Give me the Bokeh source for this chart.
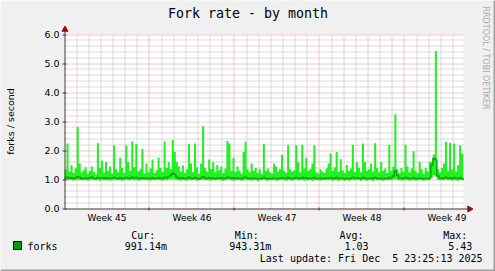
from bokeh.plotting import figure
from bokeh.models import Range1d, Label
from bokeh.embed import file_html
from bokeh.resources import INLINE
import math

# ---- data: 4-hour samples, Mon 3 Nov 2025 -> Fri 5 Dec 2025
forks_max = [
    1.35, 2.24, 1.28, 1.49, 1.22, 1.38, 2.81, 1.55, 1.25, 1.32,
    1.42, 1.20, 1.30, 1.45, 1.26, 1.18, 2.25, 1.40, 1.65, 1.24,
    1.60, 1.30, 1.45, 1.20, 2.18, 1.36, 1.25, 1.75, 1.40, 1.22,
    2.18, 1.60, 1.30, 2.32, 1.42, 2.22, 1.28, 1.35, 2.05, 1.20,
    1.55, 1.25, 1.38, 1.69, 1.22, 1.32, 1.75, 1.40, 1.26, 2.30,
    1.40, 1.60, 1.35, 2.36, 1.95, 1.60, 1.45, 1.28, 1.48, 1.22,
    1.35, 2.22, 1.55, 1.25, 2.24, 1.42, 1.20, 1.55, 2.84, 1.40,
    1.28, 1.69, 1.36, 1.60, 1.25, 1.50, 1.32, 1.45, 1.22, 1.38,
    2.33, 2.24, 1.30, 1.75, 1.26, 1.45, 1.30, 1.20, 1.95, 2.30,
    1.35, 1.25, 1.55, 1.30, 1.40, 1.22, 1.35, 1.18, 2.22, 1.30,
    1.38, 1.25, 1.20, 1.55, 1.45, 1.28, 1.35, 1.85, 1.30, 1.22,
    2.20, 1.35, 1.28, 1.32, 2.18, 1.60, 1.25, 2.20, 1.38, 1.75,
    1.30, 1.36, 1.55, 2.18, 1.25, 1.20, 1.35, 1.28, 1.22, 1.38,
    1.55, 1.90, 1.30, 1.42, 1.95, 1.28, 1.70, 1.32, 1.22, 1.50,
    1.30, 1.38, 2.20, 1.26, 1.60, 1.40, 1.25, 2.24, 1.60, 1.30,
    1.35, 1.55, 1.28, 2.25, 1.40, 1.25, 1.60, 1.30, 1.38, 1.22,
    2.20, 1.30, 1.45, 3.25, 1.35, 1.22, 1.40, 1.28, 2.20, 1.45,
    1.25, 1.38, 1.97, 1.30, 1.22, 1.60, 1.35, 1.20, 1.40, 1.28,
    1.60, 1.60, 1.85, 5.43, 1.35, 1.25, 1.40, 1.55, 2.30, 1.30,
    2.27, 1.35, 2.24, 1.28, 1.50, 2.18, 1.90, 1.42,
]
forks_avg = [
    1.05, 1.08, 1.04, 1.06, 1.03, 1.05, 1.10, 1.07, 1.04, 1.03,
    1.05, 1.04, 1.06, 1.08, 1.04, 1.03, 1.07, 1.05, 1.06, 1.04,
    1.06, 1.03, 1.05, 1.04, 1.07, 1.05, 1.03, 1.06, 1.04, 1.03,
    1.07, 1.05, 1.04, 1.08, 1.05, 1.07, 1.04, 1.03, 1.06, 1.04,
    1.05, 1.03, 1.04, 1.06, 1.03, 1.04, 1.06, 1.05, 1.04, 1.08,
    1.06, 1.10, 1.15, 1.22, 1.18, 1.09, 1.05, 1.04, 1.06, 1.03,
    1.04, 1.08, 1.05, 1.03, 1.07, 1.04, 1.03, 1.05, 1.10, 1.05,
    1.03, 1.06, 1.04, 1.05, 1.03, 1.05, 1.04, 1.06, 1.03, 1.04,
    1.08, 1.07, 1.04, 1.06, 1.03, 1.05, 1.04, 1.03, 1.06, 1.08,
    1.04, 1.03, 1.05, 1.04, 1.05, 1.03, 1.04, 1.03, 1.07, 1.04,
    1.03, 1.04, 1.03, 1.05, 1.04, 1.03, 1.05, 1.06, 1.04, 1.03,
    1.07, 1.04, 1.03, 1.05, 1.07, 1.05, 1.03, 1.08, 1.04, 1.06,
    1.03, 1.04, 1.05, 1.07, 1.03, 1.04, 1.05, 1.03, 1.04, 1.05,
    1.04, 1.06, 1.03, 1.04, 1.07, 1.03, 1.05, 1.04, 1.03, 1.05,
    1.03, 1.04, 1.07, 1.05, 1.06, 1.04, 1.03, 1.07, 1.05, 1.03,
    1.04, 1.05, 1.03, 1.07, 1.04, 1.03, 1.05, 1.03, 1.04, 1.03,
    1.07, 1.05, 1.12, 1.30, 1.15, 1.05, 1.04, 1.03, 1.07, 1.05,
    1.03, 1.04, 1.06, 1.03, 1.04, 1.05, 1.04, 1.03, 1.04, 1.03,
    1.05, 1.50, 1.73, 1.68, 1.12, 1.05, 1.04, 1.05, 1.08, 1.04,
    1.06, 1.03, 1.07, 1.04, 1.03, 1.06, 1.04, 0.99,
]
forks_min = [
    0.98, 0.97, 0.99, 0.98, 0.96, 0.98, 0.99, 0.97, 0.98, 0.97,
    0.98, 0.96, 0.97, 0.99, 0.98, 0.97, 0.98, 0.96, 0.99, 0.97,
    0.97, 0.98, 0.96, 0.98, 0.99, 0.97, 0.98, 0.97, 0.96, 0.98,
    0.99, 0.97, 0.98, 0.99, 0.97, 0.98, 0.96, 0.97, 0.98, 0.97,
    0.98, 0.97, 0.96, 0.98, 0.97, 0.99, 0.98, 0.97, 0.96, 0.98,
    0.97, 0.99, 1.00, 1.02, 0.99, 0.98, 0.97, 0.96, 0.98, 0.97,
    0.96, 0.98, 0.97, 0.98, 0.99, 0.96, 0.97, 0.98, 0.99, 0.97,
    0.98, 0.97, 0.96, 0.98, 0.97, 0.98, 0.99, 0.97, 0.96, 0.98,
    0.98, 0.99, 0.97, 0.96, 0.98, 0.97, 0.98, 0.96, 0.97, 0.99,
    0.97, 0.98, 0.96, 0.97, 0.98, 0.94, 0.97, 0.98, 0.99, 0.97,
    0.96, 0.98, 0.97, 0.98, 0.96, 0.97, 0.98, 0.99, 0.97, 0.96,
    0.98, 0.97, 0.96, 0.98, 0.99, 0.97, 0.98, 0.98, 0.96, 0.97,
    0.97, 0.98, 0.96, 0.97, 0.98, 0.97, 0.96, 0.98, 0.97, 0.98,
    0.97, 0.99, 0.96, 0.98, 0.97, 0.96, 0.98, 0.97, 0.95, 0.98,
    0.96, 0.97, 0.98, 0.97, 0.99, 0.98, 0.96, 0.98, 0.97, 0.96,
    0.98, 0.97, 0.96, 0.99, 0.97, 0.98, 0.97, 0.96, 0.98, 0.97,
    0.98, 0.97, 0.99, 1.02, 0.98, 0.97, 0.96, 0.98, 0.97, 0.98,
    0.96, 0.97, 0.98, 0.96, 0.97, 0.98, 0.97, 0.96, 0.98, 0.97,
    0.98, 1.05, 1.15, 1.10, 0.99, 0.97, 0.98, 0.97, 0.99, 0.97,
    0.98, 0.96, 0.98, 0.97, 0.96, 0.98, 0.97, 0.97,
]
samples_per_day = 6
days = [i / samples_per_day for i in range(len(forks_max))]

week_labels = ["Week 45", "Week 46", "Week 47", "Week 48", "Week 49"]
week_centers = [3.5, 10.5, 17.5, 24.5, 31.5]
week_bounds = [7, 14, 21, 28]
y_major = [0, 1, 2, 3, 4, 5, 6]
y_labels = ["0.0", "1.0", "2.0", "3.0", "4.0", "5.0", "6.0"]

legend_name = "forks"
stat_heads = ["Cur:", "Min:", "Avg:", "Max:"]
stat_values = ["991.14m", "943.31m", "1.03", "5.43"]
last_update = "Last update: Fri Dec  5 23:25:13 2025"

# ---- layout: the canvas is the frame; the plot area sits inside it
X_END, Y_END = 32.86, 6.0
W, H = 495, 271
PL, PR, PT, PB = 64, 463, 34, 208          # plot area in canvas pixels
XS = (PR - PL) / X_END                     # px per day
YS = (PB - PT) / Y_END                     # px per unit
def dx(px):
    return (px - PL) / XS
def dy(py):
    return (PB - py) / YS
def snap_x(d):                             # put a 1px line on a pixel centre
    return dx(math.floor(PL + d * XS) + 0.5)
def snap_y(v):
    return dy(math.floor(PB - v * YS) + 0.5)

BRIGHT = "#22f022"
DARK = "#00a000"
AXIS = "#553333"
MINOR = "#b8b8b8"
MAJOR = "#e49494"
ARROW = "#8b1010"

p = figure(width=W, height=H, output_backend="svg", toolbar_location=None,
           x_range=Range1d(dx(0), dx(W)), y_range=Range1d(dy(H), dy(0)),
           x_axis_location=None, y_axis_location=None,
           min_border=0, min_border_left=0, min_border_right=0,
           min_border_top=0, min_border_bottom=0,
           background_fill_color="#f0f0f0", border_fill_color="#f0f0f0",
           outline_line_color=None)
p.grid.visible = False

# bevel on the right and bottom edges
p.quad(left=[dx(0), dx(W - 2)], right=[dx(W), dx(W)], bottom=[dy(H), dy(H)], top=[dy(H - 2), dy(0)],
       fill_color="#a0a0a0", line_color=None)

# canvas
p.quad(left=[0], right=[X_END], bottom=[0], top=[Y_END], fill_color="white", line_color=None)

# grid (dotted)
minor_x = [snap_x(d) for d in range(1, 33) if d % 7 != 0]
minor_y = [snap_y(k / 5) for k in range(1, 30) if k % 5 != 0]
major_x = [snap_x(d) for d in week_bounds]
major_y = [snap_y(v) for v in y_major[1:]]
p.segment(x0=minor_x, x1=minor_x, y0=[0] * len(minor_x), y1=[Y_END] * len(minor_x),
          line_color=MINOR, line_dash="1 1", line_width=1)
p.segment(x0=[0] * len(minor_y), x1=[X_END] * len(minor_y), y0=minor_y, y1=minor_y,
          line_color=MINOR, line_dash="1 1", line_width=1)
p.segment(x0=major_x, x1=major_x, y0=[0] * len(major_x), y1=[Y_END] * len(major_x),
          line_color=MAJOR, line_dash="1 1", line_width=1)
p.segment(x0=[0] * len(major_y), x1=[X_END] * len(major_y), y0=major_y, y1=major_y,
          line_color=MAJOR, line_dash="1 1", line_width=1)

# data
p.varea_step(x=days, y1=forks_min, y2=forks_max, step_mode="after", fill_color=BRIGHT)
p.step(x=days, y=forks_avg, mode="after", line_color=DARK, line_width=1.3)

# axes
ax0, ay0 = snap_x(0), snap_y(0)
p.segment(x0=[ax0, ax0], x1=[ax0, dx(467)], y0=[ay0, ay0], y1=[dy(30), ay0],
          line_color=AXIS, line_width=1)
p.segment(x0=[dx(PL - 2)] * 7, x1=[dx(PL + 2)] * 7, y0=[snap_y(v) for v in y_major],
          y1=[snap_y(v) for v in y_major], line_color=AXIS)
p.segment(x0=major_x, x1=major_x, y0=[dy(PB - 1)] * 4, y1=[dy(PB + 2)] * 4, line_color=AXIS)
p.scatter(x=[ax0], y=[dy(29)], marker="triangle", size=6, fill_color=ARROW, line_color=ARROW)
p.scatter(x=[dx(469)], y=[ay0], marker="triangle", angle=-math.pi / 2, size=6,
          fill_color=ARROW, line_color=ARROW)

def lab(x, y, text, font="DejaVu Sans Mono", size="10px", align="left", angle=0,
        color="black", **kw):
    p.add_layout(Label(x=x, y=y, text=text, text_font=font, text_font_size=size,
                       text_align=align, text_baseline="middle", angle=angle,
                       text_color=color, **kw))

for v, t in zip(y_major, y_labels):
    lab(dx(PL - 5), v, t, font="DejaVu Sans", size="9.5px", align="right")
for c, t in zip(week_centers, week_labels):
    lab(c, dy(217.5), t, font="DejaVu Sans", size="9px", align="center")

lab(dx(247.5), dy(13), "Fork rate - by month", size="13.3px", align="center")
lab(dx(10), dy(121), "forks / second", font="DejaVu Sans", size="9.5px", align="center",
    angle=math.pi / 2)
lab(dx(485), dy(6), "RRDTOOL / TOBI OETIKER", font="DejaVu Sans", size="8px",
    angle=-math.pi / 2, color="#a8a8a8")

# legend
p.quad(left=[dx(13)], right=[dx(21)], bottom=[dy(249)], top=[dy(241)],
       fill_color=DARK, line_color="black", line_width=1)
lab(dx(27), dy(245.5), legend_name)
head_x = [130.7, 234.3, 339, 442.7]
val_x = [124.3, 228.7, 344, 447.7]
for hx, vx, h, v in zip(head_x, val_x, stat_heads, stat_values):
    lab(dx(hx), dy(234.5), h)
    lab(dx(vx), dy(245.5), v)
lab(dx(259.3), dy(257.5), last_update.replace("  ", " \u00a0"))

open("out.html", "w").write(file_html(p, INLINE))
